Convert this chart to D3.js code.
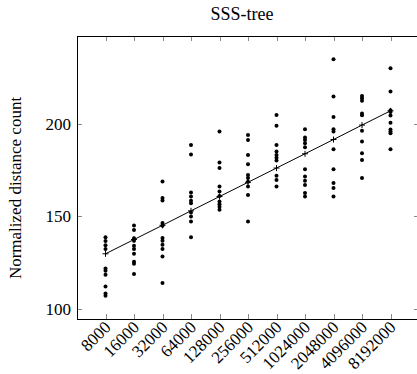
<!DOCTYPE html>
<html>
<head>
<meta charset="utf-8">
<script src="https://cdn.jsdelivr.net/npm/d3@7"></script>
<style>
  html, body { margin: 0; padding: 0; background: #fff; }
  svg { display: block; }
</style>
</head>
<body>
<svg id="chart" width="417" height="374"></svg>
<script>
// ---- data ----
const categories = ["8000","16000","32000","64000","128000","256000","512000","1024000","2048000","4096000","8192000"];
const samples8000    = [138.8,136.7,134.4,132.4,121.8,120.7,118.5,112.2,108.4,107.2];
const samples16000   = [145.1,142.7,138.2,136.8,134.1,132.4,129.8,125.5,124.4,118.9];
const samples32000   = [168.8,159.9,158.6,146.4,144.9,138.3,136.8,134.7,132.4,128.4,114.0];
const samples64000   = [188.6,183.4,162.9,160.8,158.4,157.1,152.1,150.0,147.2,138.8];
const samples128000  = [195.8,179.1,176.1,166.1,163.4,161.0,158.0,156.6,155.2,153.6];
const samples256000  = [194.0,191.2,183.2,178.2,172.3,170.7,168.7,166.1,161.6,147.2];
const samples512000  = [204.8,199.0,188.6,185.0,183.2,181.6,180.2,171.9,169.7,166.1];
const samples1024000 = [197.1,192.6,191.3,189.5,187.3,175.4,171.5,169.2,166.9,162.6,160.7];
const samples2048000 = [234.8,214.7,203.6,197.1,195.8,186.3,175.5,168.0,165.3,160.7];
const samples4096000 = [215.0,213.8,212.4,205.6,204.6,196.3,190.4,184.1,180.5,170.7];
const samples8192000 = [230.0,217.4,207.3,206.4,204.5,200.6,196.9,195.8,194.9,186.3];
const sampleSets = [samples8000, samples16000, samples32000, samples64000, samples128000,
  samples256000, samples512000, samples1024000, samples2048000, samples4096000, samples8192000];
const trendValues = [129.8,137.5,145.2,153.0,160.7,168.4,176.1,183.8,191.5,199.3,207.0];
const yTickValues = [100, 150, 200];
const titleText = "SSS-tree";
const yLabelText = "Normalized distance count";

// ---- layout ----
const FONT = "'Liberation Serif', 'Times New Roman', Times, 'DejaVu Serif', serif";
const mLeft = 77, mRight = 419, mTop = 36, mBottom = 319;
const svg = d3.select("#chart");

const x = d3.scalePoint().domain(categories).range([mLeft, mRight]).padding(1);
const y = d3.scaleLinear().domain([94.6, 247.4]).range([mBottom, mTop]);

// ticks (inward) on all four sides
const tickLen = 5;
const tickColor = "#8a8a8a";
const g = svg.append("g");
categories.forEach(c => {
  const xp = Math.round(x(c)) + 0.5;
  g.append("line").attr("x1", xp).attr("x2", xp).attr("y1", mBottom).attr("y2", mBottom - tickLen)
    .attr("stroke", tickColor).attr("stroke-width", 1);
  g.append("line").attr("x1", xp).attr("x2", xp).attr("y1", mTop).attr("y2", mTop + tickLen)
    .attr("stroke", tickColor).attr("stroke-width", 1);
});
yTickValues.forEach(v => {
  const yp = Math.round(y(v)) + 0.5;
  g.append("line").attr("x1", mLeft).attr("x2", mLeft + tickLen).attr("y1", yp).attr("y2", yp)
    .attr("stroke", tickColor).attr("stroke-width", 1);
  g.append("line").attr("x1", mRight).attr("x2", mRight - tickLen).attr("y1", yp).attr("y2", yp)
    .attr("stroke", tickColor).attr("stroke-width", 1);
});

// frame
svg.append("rect")
  .attr("x", mLeft + 0.5).attr("y", mTop + 0.5)
  .attr("width", mRight - mLeft).attr("height", mBottom - mTop)
  .attr("fill", "none").attr("stroke", "#000").attr("stroke-width", 1);

// y tick labels
svg.append("g").selectAll("text").data(yTickValues).join("text")
  .attr("x", mLeft - 6).attr("y", d => y(d)).attr("dy", "0.35em")
  .attr("text-anchor", "end").attr("font-size", 17).attr("font-family", FONT)
  .text(d => d);

// x tick labels (rotated 45)
svg.append("g").selectAll("text").data(categories).join("text")
  .attr("transform", d => `translate(${x(d) + 2},${mBottom + 5}) rotate(-45)`)
  .attr("dy", "0.35em").attr("text-anchor", "end").attr("font-size", 17).attr("font-family", FONT)
  .text(d => d);

// scatter points
const pts = [];
sampleSets.forEach((arr, i) => arr.forEach(v => pts.push({c: categories[i], v})));
svg.append("g").selectAll("circle").data(pts).join("circle")
  .attr("cx", d => x(d.c)).attr("cy", d => y(d.v)).attr("r", 2).attr("fill", "#000");

// trend line with + markers
const trend = categories.map((c, i) => ({c, v: trendValues[i]}));
svg.append("path").datum(trend)
  .attr("d", d3.line().x(d => x(d.c)).y(d => y(d.v)))
  .attr("fill", "none").attr("stroke", "#000").attr("stroke-width", 1);
const plus = svg.append("g").selectAll("g").data(trend).join("g")
  .attr("transform", d => `translate(${x(d.c)},${y(d.v)})`);
plus.append("line").attr("x1", -3).attr("x2", 3).attr("stroke", "#000").attr("stroke-width", 1);
plus.append("line").attr("y1", -3).attr("y2", 3).attr("stroke", "#000").attr("stroke-width", 1);

// title
svg.append("text").attr("x", 242).attr("y", 19.5).attr("text-anchor", "middle")
  .attr("font-size", 18).attr("font-family", FONT).text(titleText);

// y label
svg.append("text").attr("transform", "translate(21,188) rotate(-90)")
  .attr("text-anchor", "middle").attr("font-size", 17).attr("font-family", FONT).text(yLabelText);
</script>
</body>
</html>
